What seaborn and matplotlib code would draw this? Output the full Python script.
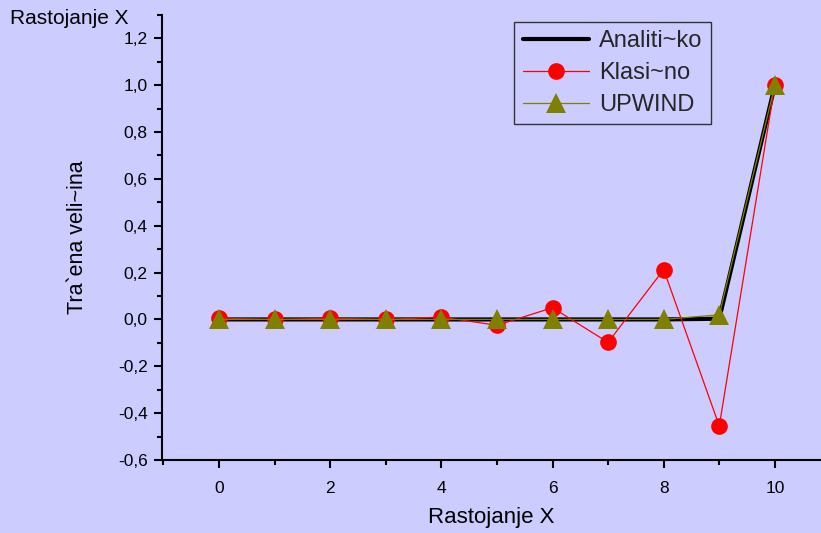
import matplotlib
matplotlib.use("Agg")
import matplotlib.pyplot as plt
import seaborn as sns
import pandas as pd
from matplotlib.ticker import MultipleLocator, FuncFormatter

x_vals = [0, 1, 2, 3, 4, 5, 6, 7, 8, 9, 10]
analiticko = [0.0, 0.0, 0.0, 0.0, 0.0, 0.0, 0.0, 0.0, 0.0, 0.003, 1.0]
klasicno = [0.005, 0.0, 0.005, 0.0, 0.01, -0.025, 0.05, -0.098, 0.213, -0.455, 1.0]
upwind = [0.0, 0.0, 0.0, 0.0, 0.0, 0.0, 0.0, 0.0, 0.0, 0.02, 1.0]
series_names = ["Analiti~ko", "Klasi~no", "UPWIND"]
y_ticks = [-0.6, -0.4, -0.2, 0.0, 0.2, 0.4, 0.6, 0.8, 1.0, 1.2]
x_ticks = [0, 2, 4, 6, 8, 10]

bg = "#CCCCFF"
sns.set_theme(style="ticks")
plt.rcParams["font.family"] = ["Liberation Sans", "DejaVu Sans"]

fig = plt.figure(figsize=(8.21, 5.33), dpi=100, facecolor=bg)
ax = fig.add_axes([0.197, 0.137, 0.803, 0.835])
ax.set_facecolor(bg)

df_a = pd.DataFrame({"x": x_vals, "y": analiticko})
df_k = pd.DataFrame({"x": x_vals, "y": klasicno})
df_u = pd.DataFrame({"x": x_vals, "y": upwind})

sns.lineplot(data=df_a, x="x", y="y", ax=ax, color="black", linewidth=3,
             label=series_names[0])
sns.lineplot(data=df_k, x="x", y="y", ax=ax, color="red", linewidth=0.9,
             marker="o", markersize=12, markeredgewidth=0, label=series_names[1])
sns.lineplot(data=df_u, x="x", y="y", ax=ax, color="#808000", linewidth=0.9,
             marker="^", markersize=15, markeredgewidth=0, label=series_names[2])

ax.set_xlim(-1.03, 10.83)
ax.set_ylim(-0.6, 1.3)
ax.set_xticks(x_ticks)
ax.set_yticks(y_ticks)
ax.xaxis.set_minor_locator(MultipleLocator(1))
ax.yaxis.set_minor_locator(MultipleLocator(0.1))
ax.yaxis.set_major_formatter(FuncFormatter(lambda v, p: f"{v:.1f}".replace(".", ",").replace("-0,0", "0,0")))
ax.tick_params(axis="both", which="major", direction="out", length=6, width=1.5,
               labelsize=12.5, color="black", labelcolor="black", pad=4)
ax.tick_params(axis="x", which="major", pad=9)
ax.tick_params(axis="both", which="minor", direction="out", length=3.5, width=1.5,
               color="black")
for s in ["top", "right"]:
    ax.spines[s].set_visible(False)
for s in ["left", "bottom"]:
    ax.spines[s].set_color("black")
    ax.spines[s].set_linewidth(1.5)

ax.set_xlabel("Rastojanje X", fontsize=16, color="black", labelpad=8)
ax.set_ylabel("Tra`ena veli~ina", fontsize=15.5, color="black", labelpad=22)
fig.text(0.012, 0.965, "Rastojanje X", fontsize=15, color="black", va="center", ha="left")

leg = ax.legend(loc="upper left", bbox_to_anchor=(0.535, 0.984), frameon=True,
                fontsize=17, fancybox=False, handlelength=2.8, borderpad=0.35,
                labelspacing=0.42, handletextpad=0.45, borderaxespad=0)
leg.get_frame().set_facecolor(bg)
leg.get_frame().set_edgecolor("#333333")
leg.get_frame().set_alpha(1)
leg.get_frame().set_linewidth(1.0)

fig.savefig("out.png", dpi=100, facecolor=bg)
